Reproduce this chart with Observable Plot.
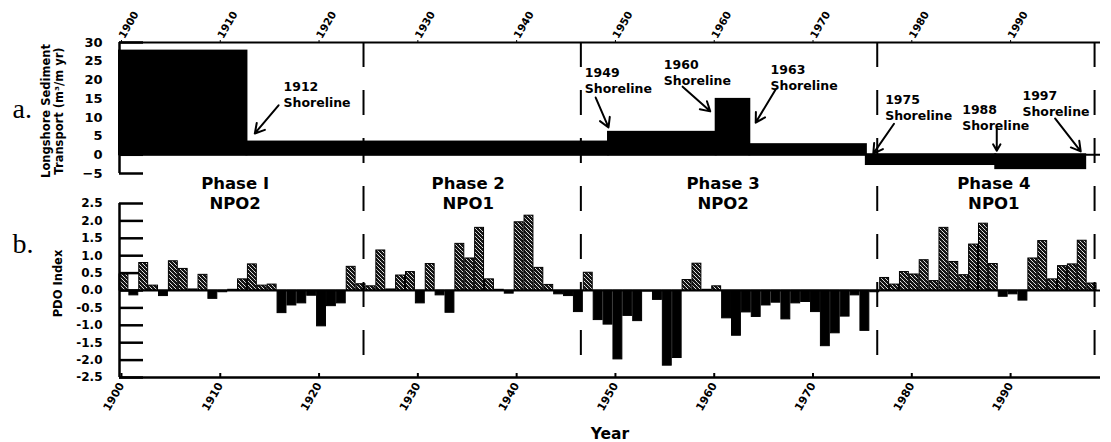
<!DOCTYPE html>
<html><head><meta charset="utf-8">
<script src="https://cdn.jsdelivr.net/npm/d3@7"></script>
<script src="https://cdn.jsdelivr.net/npm/@observablehq/plot@0.6"></script>
<style>
body{margin:0;background:#fff;}
#wrap{position:relative;width:1111px;height:442px;overflow:hidden;background:#fff;}
#wrap svg{position:absolute;left:0;top:0;background:transparent !important;}
</style></head><body>
<svg width="0" height="0" style="position:absolute"><defs>
<pattern id="stipple" width="4" height="4" patternUnits="userSpaceOnUse">
<rect width="4" height="4" fill="#151515"/>
<rect x="0" y="1" width="1" height="1" fill="#e0e0e0"/>
<rect x="2" y="3" width="1" height="1" fill="#e0e0e0"/>
<rect x="3" y="0" width="1" height="1" fill="#e0e0e0"/>
<rect x="1" y="2" width="1" height="1" fill="#bbb"/>
</pattern></defs></svg>
<div id="wrap"></div>
<script>
// ---- Panel a: longshore sediment transport (m3/m yr) ----
const transportStart = [1899.8, 1912.7, 1949.3, 1960.2, 1963.6, 1975.4, 1988.5];
const transportEnd   = [1912.7, 1949.3, 1960.2, 1963.6, 1975.4, 1988.5, 1997.6];
const transportValue = [27.7, 3.4, 6.0, 14.8, 2.7, -2.6, -3.7];
const transportTicks = [-5, 0, 5, 10, 15, 20, 25, 30];

// shoreline annotations (data coordinates of panel a)
const shoreYear  = ["1912", "1949", "1960", "1963", "1975", "1988", "1997"];
const shoreTextX = [1916.4, 1946.9, 1954.9, 1965.7, 1977.3, 1985.1, 1991.2];
const shoreTextY = [20.1, 23.9, 26.0, 24.7, 16.6, 14.0, 17.7];
const arrowX1 = [1915.9, 1948.0, 1956.8, 1966.2, 1978.2, 1988.6, 1994.5];
const arrowY1 = [13.2, 15.3, 18.2, 17.4, 8.3, 7.0, 9.7];
const arrowX2 = [1913.5, 1949.3, 1959.6, 1964.2, 1976.1, 1988.6, 1997.1];
const arrowY2 = [5.7, 7.3, 11.6, 8.6, 0.3, 1.1, 0.9];

// ---- Panel b: PDO index ----
const pdoYears = d3.range(1900, 1999);
const pdoValues = [
  0.46, -0.14, 0.79, 0.14, -0.16, 0.84, 0.62, 0.03, 0.45, -0.24,
  -0.05, 0.02, 0.32, 0.75, 0.14, 0.17, -0.65, -0.43, -0.37, -0.15,
  -1.03, -0.45, -0.37, 0.68, 0.18, 0.12, 1.15, 0.03, 0.43, 0.53,
  -0.37, 0.76, -0.14, -0.64, 1.34, 0.92, 1.80, 0.32, 0.02, -0.09,
  1.96, 2.15, 0.65, 0.16, -0.11, -0.16, -0.62, 0.51, -0.85, -0.98,
  -1.98, -0.73, -0.88, -0.03, -0.27, -2.16, -1.94, 0.30, 0.77, 0.02,
  0.12, -0.80, -1.30, -0.63, -0.76, -0.43, -0.35, -0.83, -0.37, -0.33,
  -0.62, -1.60, -1.23, -0.75, -0.14, -1.16, -0.05, 0.36, 0.17, 0.53,
  0.46, 0.87, 0.27, 1.80, 0.82, 0.44, 1.32, 1.92, 0.76, -0.18,
  -0.11, -0.29, 0.92, 1.42, 0.32, 0.70, 0.75, 1.43, 0.20
];
const pdoTicks = [-2.5, -2, -1.5, -1, -0.5, 0, 0.5, 1, 1.5, 2, 2.5];

// ---- phases ----
const phaseBounds  = [1924.5, 1946.5, 1976.5, 1998.5];
const phaseNames   = ["Phase I\nNPO2", "Phase 2\nNPO1", "Phase 3\nNPO2", "Phase 4\nNPO1"];
const phaseCenters = [1911.5, 1935.1, 1960.9, 1988.3];
const decadeTicks  = [1900, 1910, 1920, 1930, 1940, 1950, 1960, 1970, 1980, 1990];

const FONT = "'DejaVu Sans', sans-serif";
const W = 1111, ML = 119, MR = 11;
const xDomain = [1899.8, 1999.1];
const yDomainA = [-5, 30], yDomainB = [-2.5, 2.5];

const common = {
  width: W, height: 442, marginLeft: ML, marginRight: MR,
  style: {background: "transparent", fontFamily: FONT, fontWeight: "bold", color: "black", overflow: "visible"}
};
const frameA = {marginTop: 42, marginBottom: 442 - 173};
const frameB = {marginTop: 203, marginBottom: 442 - 377};

const transport = transportValue.map((v, i) => ({x1: transportStart[i], x2: transportEnd[i], v}));
const shorelines = shoreYear.map((y, i) => ({
  label: y + "\nShoreline", tx: shoreTextX[i], ty: shoreTextY[i],
  x1: arrowX1[i], y1: arrowY1[i], x2: arrowX2[i], y2: arrowY2[i]
}));
const pdo = pdoYears.map((y, i) => ({x1: y - 0.2, x2: y + 0.7, v: pdoValues[i]}));
const phases = phaseNames.map((n, i) => ({name: n, center: phaseCenters[i]}));

// inward left-axis ticks: tickSize 24 shifted right by 24px (dx) so they point into the frame
const TICK = 24;

const plotA = Plot.plot({
  ...common, ...frameA,
  x: {domain: xDomain},
  y: {domain: yDomainA},
  marks: [
    Plot.axisY({ticks: transportTicks, tickSize: TICK, dx: TICK, tickPadding: 17, strokeWidth: 2.5, fontSize: 13, label: null}),
    Plot.axisX({anchor: "top", ticks: decadeTicks, tickFormat: d => String(d), tickRotate: -60, tickSize: 3, tickPadding: 2, fontSize: 10.5, label: null}),
    Plot.rect(transport, {x1: "x1", x2: "x2", y1: 0, y2: "v", fill: "black", stroke: "black", strokeWidth: 2}),
    Plot.ruleY([0], {strokeWidth: 2}),
    Plot.ruleY([30], {strokeWidth: 2}),
    Plot.ruleX([xDomain[0]], {y1: -5, y2: 30, strokeWidth: 2.5}),
    Plot.text(shorelines, {x: "tx", y: "ty", text: "label", textAnchor: "start", lineAnchor: "top", lineHeight: 1.28, fontSize: 12.5}),
    Plot.arrow(shorelines, {x1: "x1", y1: "y1", x2: "x2", y2: "y2", strokeWidth: 2, headLength: 8}),
    Plot.text(["Longshore Sediment\nTransport (m³/m yr)"], {frameAnchor: "left", textAnchor: "middle", rotate: -90, dx: -67, dy: 3, fontSize: 11.5, lineHeight: 1.13}),
    Plot.text(["a."], {frameAnchor: "left", textAnchor: "start", lineAnchor: "bottom", dx: -107, dy: 10, fontSize: 28, fontFamily: "'Liberation Serif', serif", fontWeight: "normal"})
  ]
});

const plotB = Plot.plot({
  ...common, ...frameB,
  x: {domain: xDomain},
  y: {domain: yDomainB},
  marks: [
    Plot.axisY({ticks: pdoTicks, tickFormat: d => d.toFixed(1), tickSize: TICK, dx: TICK, tickPadding: 17, strokeWidth: 2.5, fontSize: 12, label: null}),
    Plot.axisX({anchor: "bottom", ticks: decadeTicks, tickFormat: d => String(d), tickRotate: -60, tickSize: 4, dy: -4, tickPadding: 6, strokeWidth: 2, fontSize: 11, label: null}),
    Plot.rect(pdo.filter(d => d.v >= 0), {x1: "x1", x2: "x2", y1: 0, y2: "v", fill: "url(#stipple)", stroke: "black", strokeWidth: 1}),
    Plot.rect(pdo.filter(d => d.v < 0), {x1: "x1", x2: "x2", y1: 0, y2: "v", fill: "black", stroke: "black", strokeWidth: 1}),
    Plot.ruleY([0], {strokeWidth: 2}),
    Plot.ruleY([-2.5], {strokeWidth: 2.5}),
    Plot.ruleX([xDomain[0]], {y1: -2.5, y2: 2.5, strokeWidth: 2.5}),
    Plot.text(phases, {x: "center", text: "name", frameAnchor: "top", lineAnchor: "bottom", dy: 5, fontSize: 16.5, lineHeight: 1.2}),
    Plot.text(["Year"], {frameAnchor: "bottom", lineAnchor: "bottom", dy: 61, fontSize: 15.5}),
    Plot.text(["PDO Index"], {frameAnchor: "left", textAnchor: "middle", rotate: -90, dx: -61, dy: -7, fontSize: 11.5}),
    Plot.text(["b."], {frameAnchor: "left", textAnchor: "start", lineAnchor: "bottom", dx: -107, dy: -38, fontSize: 28, fontFamily: "'Liberation Serif', serif", fontWeight: "normal"})
  ]
});

// dashed phase boundaries spanning both panels
const plotC = Plot.plot({
  ...common, marginTop: 42, marginBottom: 80,
  x: {domain: xDomain, axis: null},
  marks: [
    Plot.ruleX(phaseBounds, {strokeWidth: 2, strokeDasharray: "25,23"})
  ]
});

const wrap = document.getElementById("wrap");
wrap.append(plotA, plotB, plotC);
</script>
</body></html>
